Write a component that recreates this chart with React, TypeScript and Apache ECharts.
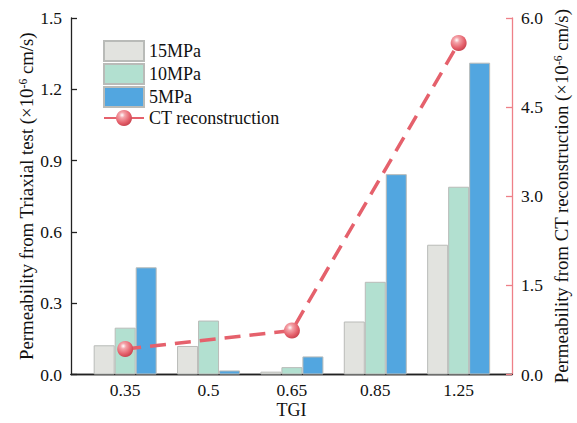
import React, { useEffect, useRef } from "react";
import * as echarts from "echarts";

const categories = ["0.35", "0.5", "0.65", "0.85", "1.25"];
const positions = [1, 2, 3, 4, 5];
const mpa15 = [0.123, 0.12, 0.012, 0.223, 0.546];
const mpa10 = [0.197, 0.227, 0.031, 0.39, 0.79];
const mpa5 = [0.451, 0.017, 0.076, 0.843, 1.312];
const ctPositions = [1, 3, 5];
const ctValues = [0.43, 0.74, 5.58];
const leftTicks = [0, 0.3, 0.6, 0.9, 1.2, 1.5];
const rightTicks = [0, 1.5, 3, 4.5, 6];

const FONT = "Liberation Serif, Times New Roman, serif";

export default function App() {
  const ref = useRef<HTMLDivElement>(null);
  useEffect(() => {
    if (!ref.current) return;
    const chart = echarts.init(ref.current, null, { renderer: "svg" });
    const pair = (vals: number[], xs: number[]) => vals.map((v, i) => [xs[i], v]);
    const barBorder = { borderColor: "#b9bbb8", borderWidth: 1 };
    const lineColor = "#e5616c";
    const supStyle = { fontSize: 11.5, verticalAlign: "top", fontFamily: FONT, color: "#111" };
    const legendText = { fontFamily: FONT, fontSize: 18, color: "#111", lineHeight: 18, fontWeight: "normal" };
    chart.setOption({
      animation: false,
      textStyle: { fontFamily: FONT },
      grid: {
        left: 71,
        right: 65,
        top: 18,
        bottom: 48.5,
        containLabel: false,
        outerBoundsMode: "none",
      },
      legend: {
        left: 103,
        top: 40,
        padding: 0,
        orient: "vertical",
        itemWidth: 40,
        itemHeight: 20,
        itemGap: 1,
        itemTextGap: 11,
        textStyle: legendText,
        data: [
          { name: "15MPa", icon: "rect", textStyle: legendText },
          { name: "10MPa", icon: "rect", textStyle: legendText },
          { name: "5MPa", icon: "rect", textStyle: legendText },
          { name: "CT reconstruction", textStyle: legendText },
        ],
      },
      xAxis: [
        {
          type: "value",
          min: 0.35,
          max: 5.64,
          position: "bottom",
          name: "TGI",
          nameLocation: "middle",
          nameGap: 27.5,
          nameMoveOverlap: false,
          nameTextStyle: { fontFamily: FONT, fontSize: 18, color: "#111", lineHeight: 16 },
          axisLine: { show: true, lineStyle: { color: "#222", width: 1.3 } },
          axisTick: {
            show: true,
            inside: true,
            length: 5,
            customValues: positions,
            lineStyle: { color: "#222", width: 1.3 },
          },
          axisLabel: {
            customValues: positions,
            formatter: (v: number) => categories[Math.round(v) - 1] ?? "",
            fontFamily: FONT,
            fontSize: 17.5,
            lineHeight: 16,
            color: "#111",
            margin: 7.5,
          },
          splitLine: { show: false },
          minorTick: { show: false },
        },
        {
          type: "value",
          min: 0.35,
          max: 5.64,
          position: "top",
          axisLine: { show: true, lineStyle: { color: "#222", width: 1.3 } },
          axisTick: { show: false },
          axisLabel: { show: false },
          splitLine: { show: false },
        },
      ],
      yAxis: [
        {
          type: "value",
          min: 0,
          max: 1.5,
          interval: 0.3,
          position: "left",
          name: "Permeability from Triaxial test (×10{sup|-6} cm/s)",
          nameLocation: "middle",
          nameGap: 35,
          nameMoveOverlap: false,
          nameTextStyle: {
            fontFamily: FONT,
            fontSize: 18.8,
            color: "#111",
            rich: { sup: supStyle },
          },
          axisLine: { show: true, lineStyle: { color: "#222", width: 1.3 } },
          axisTick: { show: true, inside: true, length: 6, lineStyle: { color: "#222", width: 1.3 } },
          axisLabel: {
            formatter: (v: number) => v.toFixed(1),
            fontFamily: FONT,
            fontSize: 17.5,
            color: "#111",
            margin: 9,
          },
          splitLine: { show: false },
        },
        {
          type: "value",
          min: 0,
          max: 6,
          interval: 1.5,
          position: "right",
          name: "Permeability from CT reconstruction (×10{sup|-6} cm/s)",
          nameLocation: "middle",
          nameGap: 40,
          nameRotate: 90,
          nameMoveOverlap: false,
          nameTextStyle: {
            fontFamily: FONT,
            fontSize: 18.8,
            color: "#111",
            rich: { sup: supStyle },
          },
          axisLine: { show: true, lineStyle: { color: "#ee8088", width: 1.3 } },
          axisTick: { show: true, inside: true, length: 6, lineStyle: { color: "#ee8088", width: 1.3 } },
          axisLabel: {
            formatter: (v: number) => v.toFixed(1),
            fontFamily: FONT,
            fontSize: 17.5,
            color: "#111",
            margin: 9,
          },
          splitLine: { show: false },
        },
      ],
      series: [
        {
          name: "15MPa",
          type: "bar",
          xAxisIndex: 0,
          yAxisIndex: 0,
          barWidth: 21,
          barGap: "0%",
          data: pair(mpa15, positions),
          itemStyle: { color: "#e2e3df", ...barBorder },
        },
        {
          name: "10MPa",
          type: "bar",
          xAxisIndex: 0,
          yAxisIndex: 0,
          barWidth: 21,
          barGap: "0%",
          data: pair(mpa10, positions),
          itemStyle: { color: "#b2e0d0", ...barBorder },
        },
        {
          name: "5MPa",
          type: "bar",
          xAxisIndex: 0,
          yAxisIndex: 0,
          barWidth: 21,
          barGap: "0%",
          data: pair(mpa5, positions),
          itemStyle: { color: "#52a6e0", ...barBorder },
        },
        {
          name: "CT reconstruction",
          type: "line",
          xAxisIndex: 0,
          yAxisIndex: 1,
          data: pair(ctValues, ctPositions),
          symbol: "circle",
          symbolSize: 16,
          z: 5,
          lineStyle: { color: lineColor, width: 3.5, type: [16, 9] },
          itemStyle: {
            color: new echarts.graphic.RadialGradient(0.38, 0.32, 0.7, [
              { offset: 0, color: "#ffffff" },
              { offset: 0.25, color: "#f4a3a9" },
              { offset: 0.7, color: "#e5616c" },
              { offset: 1, color: "#c9434f" },
            ]),
            borderWidth: 0,
          },
        },
      ],
    });
    return () => chart.dispose();
  }, []);
  return (
    <div
      ref={ref}
      style={{ position: "fixed", left: 0, top: 0, width: 577, height: 423, background: "#fff" }}
    />
  );
}
